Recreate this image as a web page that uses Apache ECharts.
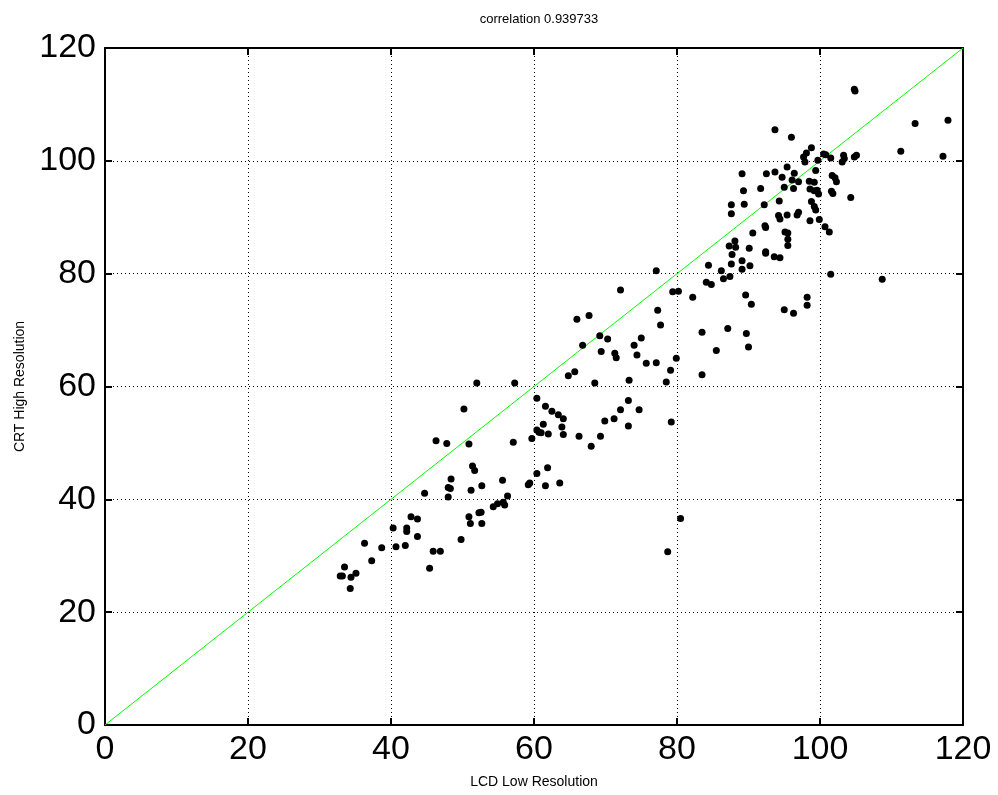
<!DOCTYPE html>
<html>
<head>
<meta charset="utf-8">
<script src="https://cdn.jsdelivr.net/npm/echarts@6/dist/echarts.min.js"></script>
<style>
  html, body { margin: 0; padding: 0; background: #fff; }
  #main { width: 998px; height: 795px; }
</style>
</head>
<body>
<div id="main"></div>
<script>
// LCD (x) vs CRT (y) scores
const lcdCrt = [
  [52.0,60.6],[57.3,60.6],[50.2,56.0],[46.3,50.4],[47.8,49.9],[50.9,49.8],[57.1,50.1],[51.4,45.9],[51.7,45.1],[48.4,43.6],
  [48.0,42.1],[48.3,41.9],[48.0,40.4],[44.7,41.1],[51.2,41.6],[52.7,42.4],[55.6,43.4],[56.3,40.6],[54.3,38.7],[54.9,39.2],
  [55.7,39.5],[55.9,39.0],[52.3,37.6],[52.6,37.7],[50.9,36.9],[51.1,35.7],[52.7,35.7],[42.8,36.9],[43.7,36.5],[40.3,34.9],
  [42.2,34.9],[42.2,34.3],[43.7,33.4],[40.7,31.6],[42.0,31.8],[38.7,31.4],[36.3,32.2],[37.3,29.1],[49.8,32.9],[45.9,30.8],
  [46.9,30.8],[45.4,27.8],[33.5,28.0],[32.9,26.4],[33.2,26.4],[34.4,26.2],[35.1,26.9],[34.3,24.2],
  [77.1,80.5],[79.4,76.8],[80.2,76.9],[72.1,77.1],[77.3,73.5],[77.7,70.9],[66.0,71.9],[67.7,72.6],[69.2,69.0],[70.3,68.4],
  [66.8,67.3],[69.4,66.2],[71.3,65.9],[71.5,65.1],[74.0,67.3],[75.0,68.6],[74.4,65.6],[75.7,64.1],[77.1,64.2],[79.9,65.0],
  [79.1,62.9],[78.5,60.8],[64.8,61.9],[65.7,62.6],[68.5,60.6],[73.3,61.1],[60.4,57.9],[61.6,56.5],[62.5,55.6],[63.4,55.0],
  [64.1,54.3],[61.3,53.3],[60.4,52.3],[60.7,51.9],[61.0,51.8],[62.0,51.6],[59.7,50.8],[63.9,52.8],[64.1,51.5],[66.3,51.2],
  [68.0,49.4],[69.3,51.2],[69.9,53.9],[71.2,54.3],[72.1,55.9],[73.2,57.5],[74.7,55.9],[73.2,53.0],[79.2,53.7],[60.4,44.6],
  [61.9,45.6],[59.2,42.6],[59.4,42.9],[61.6,42.4],[63.6,42.9],[80.5,36.6],[78.7,30.7],[83.5,62.1],
  [93.7,105.5],[96.0,104.2],[98.8,102.3],[97.7,100.7],[98.1,101.4],[97.9,99.8],[99.7,100.1],[100.5,101.2],[100.8,101.1],[101.5,100.5],
  [99.4,98.3],[95.4,98.9],[96.4,97.8],[93.7,98.0],[92.5,97.7],[94.7,97.1],[89.1,97.7],[96.1,96.6],[97.0,96.3],[95.0,95.3],
  [96.3,95.1],[98.5,96.4],[99.2,96.2],[98.6,95.0],[99.2,94.7],[99.8,94.1],[99.6,94.8],[101.7,97.4],[102.1,97.0],[102.3,96.3],
  [101.6,94.6],[101.8,94.2],[91.7,95.1],[89.3,94.7],[94.3,92.9],[92.2,92.2],[89.4,92.3],[87.6,92.2],[87.6,90.6],[98.8,92.8],
  [99.2,91.9],[99.4,91.3],[94.2,90.3],[94.4,89.7],[95.4,90.4],[97.0,90.9],[96.8,90.4],[98.6,89.4],[99.9,89.6],[100.7,88.3],
  [101.3,87.4],[92.3,88.5],[92.4,88.2],[90.6,87.2],[95.1,87.4],[95.5,87.2],[95.5,86.1],[95.5,85.0],[88.1,85.8],[87.3,84.9],
  [88.2,84.7],[87.7,83.4],[90.1,84.5],[92.4,83.9],[92.4,83.6],[93.6,83.0],[94.4,82.8],[84.4,81.5],[87.6,81.7],[89.1,82.3],
  [90.2,81.4],[89.1,80.8],[86.2,80.5],[87.4,79.5],[86.5,79.1],[84.1,78.5],[84.8,78.1],[101.5,79.9],[82.2,75.8],[89.6,76.2],
  [90.4,74.6],[98.2,75.8],[98.2,74.4],[95.0,73.6],[96.3,73.0],[83.5,69.6],[87.1,70.3],[89.7,69.4],[90.0,67.0],[85.5,66.4],
  [103.3,101.0],[103.1,99.8],[103.4,100.4],[104.8,100.7],[105.1,101.0],[104.3,93.5],
  [104.8,112.7],[104.9,112.4],[113.3,106.6],[117.9,107.2],[111.3,101.7],[117.2,100.8],[108.7,79.0]
];
// identity line y = x
const diagonal = [[0, 0], [120, 120]];
const axisMin = 0, axisMax = 120, axisStep = 20;

const font = 'Liberation Sans, Arial, sans-serif';
const chart = echarts.init(document.getElementById('main'));

function makeAxis(pos, withLabels, name) {
  return {
    type: 'value',
    position: pos,
    min: axisMin, max: axisMax, interval: axisStep,
    name: name || '',
    nameLocation: 'middle',
    nameGap: pos === 'bottom' ? 50 : 78,
    nameTextStyle: { color: '#000', fontSize: 14, fontFamily: font },
    axisLine: { show: true, onZero: false, lineStyle: { color: '#000', width: 2 } },
    axisTick: { show: true, inside: true, length: 7, lineStyle: { color: '#000', width: 2 } },
    axisLabel: {
      show: withLabels, color: '#000', fontSize: 34, fontFamily: font,
      margin: pos === 'bottom' ? 8 : 9
    },
    splitLine: withLabels ? { show: true, lineStyle: { color: '#000', type: [1, 3], width: 1 } } : { show: false }
  };
}

chart.setOption({
  animation: false,
  backgroundColor: '#fff',
  title: {
    text: 'correlation 0.939733',
    left: 534, top: 8, textAlign: 'center',
    textStyle: { color: '#000', fontSize: 13, fontWeight: 'normal', fontFamily: font }
  },
  grid: { left: 105, right: 35, top: 48, bottom: 70, containLabel: false },
  xAxis: [makeAxis('bottom', true, 'LCD Low Resolution'), makeAxis('top', false)],
  yAxis: [makeAxis('left', true, 'CRT High Resolution'), makeAxis('right', false)],
  series: [
    {
      type: 'line',
      data: diagonal,
      showSymbol: false,
      symbol: 'none',
      lineStyle: { color: '#00ff00', width: 1 },
      z: 2
    },
    {
      type: 'scatter',
      data: lcdCrt,
      symbolSize: 7,
      itemStyle: { color: '#000', opacity: 1 },
      z: 3
    }
  ]
});
</script>
</body>
</html>
